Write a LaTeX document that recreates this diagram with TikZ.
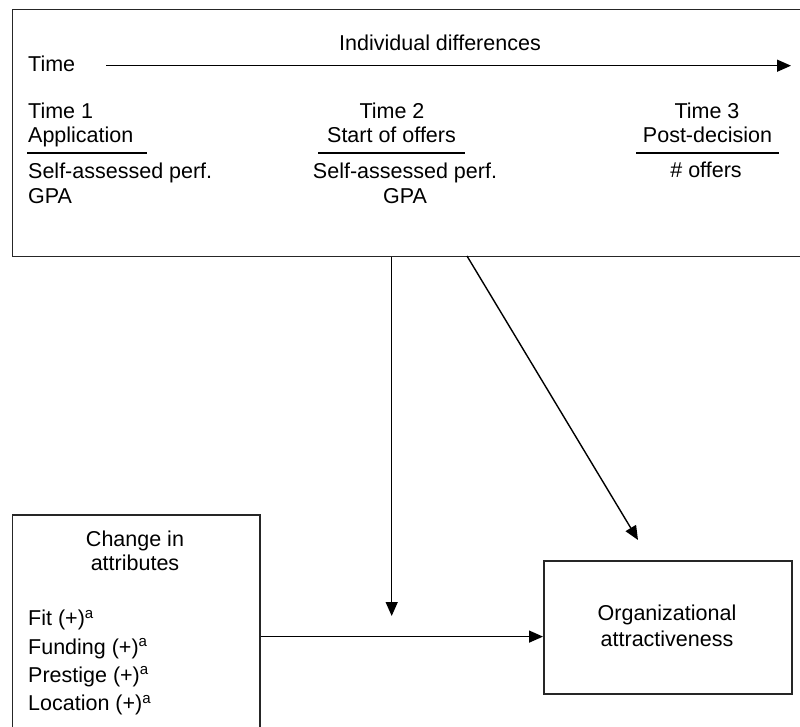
\documentclass[tikz,border=0pt]{standalone}
\usepackage{fontspec}
\setmainfont{Liberation Sans}
\usetikzlibrary{arrows.meta}
\begin{document}
\begin{tikzpicture}[x=1pt,y=-1pt,
  box/.style={draw=black!85, line width=1.5pt, inner sep=0pt},
  txt/.style={inner sep=0pt, font=\fontsize{21.5}{25}\selectfont},
  arr/.style={line width=1.4pt, -{Triangle[length=14pt,width=12pt]}},
  rule/.style={line width=1.9pt}]
\path[use as bounding box, clip] (0,0) rectangle (800,727);
\fill[white] (0,0) rectangle (800,727);
% boxes
\node[box, anchor=north west, minimum width=800pt, minimum height=247pt] (top) at (11.7,9) {};
\node[box, anchor=north west, minimum width=247.3pt, minimum height=240pt] (left) at (11.7,514) {};
\node[box, anchor=north west, minimum width=248pt, minimum height=133pt] (org) at (543,560) {};
% top texts
\node[txt, anchor=base] (indiv) at (440,50.5) {Individual differences};
\node[txt, anchor=base west] (time) at (28,72) {Time};
\coordinate (ta) at (106,65.7);
\coordinate (tb) at (791,65.7);
\draw[arr] (ta) -- (tb);
% column 1
\node[txt, anchor=base west] (t1) at (28,118.5) {Time 1};
\node[txt, anchor=base west] (t1b) at (28,142.5) {Application};
\coordinate (u1a) at (27,153); \coordinate (u1b) at (147,153);
\draw[rule] (u1a) -- (u1b);
\node[txt, anchor=base west] (t1c) at (28,178.5) {Self-assessed perf.};
\node[txt, anchor=base west] (t1d) at (28,203.3) {GPA};
% column 2
\node[txt, anchor=base] (t2) at (392,118.5) {Time 2};
\node[txt, anchor=base] (t2b) at (391.5,142.5) {Start of offers};
\coordinate (u2a) at (318,153); \coordinate (u2b) at (465,153);
\draw[rule] (u2a) -- (u2b);
\node[txt, anchor=base] (t2c) at (405,178.5) {Self-assessed perf.};
\node[txt, anchor=base] (t2d) at (405,203.3) {GPA};
% column 3
\node[txt, anchor=base] (t3) at (707,118.5) {Time 3};
\node[txt, anchor=base] (t3b) at (707.5,142.5) {Post-decision};
\coordinate (u3a) at (636,153); \coordinate (u3b) at (779,153);
\draw[rule] (u3a) -- (u3b);
\node[txt, anchor=base] (t3c) at (706,177.5) {\# offers};
% left box texts
\node[txt, anchor=base] (ch1) at (135,546.7) {Change in};
\node[txt, anchor=base] (ch2) at (135,570.7) {attributes};
\node[txt, anchor=base west] (a1) at (28,625.7) {Fit (+)\textsuperscript{a}};
\node[txt, anchor=base west] (a2) at (28,654) {Funding (+)\textsuperscript{a}};
\node[txt, anchor=base west] (a3) at (28,682.5) {Prestige (+)\textsuperscript{a}};
\node[txt, anchor=base west] (a4) at (28,710.8) {Location (+)\textsuperscript{a}};
% org texts
\node[txt, anchor=base] (o1) at (667,620.7) {Organizational};
\node[txt, anchor=base] (o2) at (667,646.7) {attractiveness};
% connectors
\coordinate (vm) at (391.7,616);
\draw[arr] (top.south -| vm) -- (vm);
\coordinate (d1) at (467,256);
\coordinate (d2) at (638,540);
\draw[arr] (d1) -- (d2);
\coordinate (hy) at (400,636.6);
\draw[arr] (left.east |- hy) -- (org.west |- hy);
\end{tikzpicture}
\end{document}
